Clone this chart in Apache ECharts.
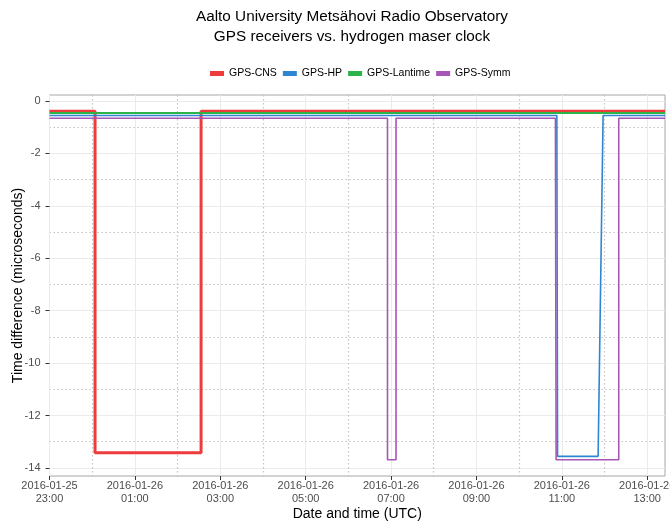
<!DOCTYPE html>
<html><head><meta charset="utf-8">
<script src="https://cdn.jsdelivr.net/npm/echarts@6/dist/echarts.min.js"></script>
<style>html,body{margin:0;padding:0;background:#fff}#c{width:670px;height:523px}</style>
</head><body><div id="c"></div>
<script>
// ---- data ----
const titleLines = ['Aalto University Metsähovi Radio Observatory', 'GPS receivers vs. hydrogen maser clock'];
const seriesNames = ['GPS-CNS', 'GPS-HP', 'GPS-Lantime', 'GPS-Symm'];
const seriesColors = ['#EE3B3B', '#2C86D1', '#2DB34A', '#A855B8'];

const cnsTimes = ['2016-01-25 23:00','2016-01-26 00:04','2016-01-26 00:04','2016-01-26 02:33','2016-01-26 02:33','2016-01-26 13:25'];
const cnsValues = [-0.39,-0.39,-13.42,-13.42,-0.39,-0.39];

const hpTimes = ['2016-01-25 23:00','2016-01-26 10:53','2016-01-26 10:54','2016-01-26 11:51','2016-01-26 11:58','2016-01-26 13:25'];
const hpValues = [-0.55,-0.55,-13.56,-13.56,-0.55,-0.55];

const lantimeTimes = ['2016-01-25 23:00','2016-01-26 13:25'];
const lantimeValues = [-0.46,-0.46];

const symmTimes = ['2016-01-25 23:00','2016-01-26 06:55','2016-01-26 06:55','2016-01-26 07:07','2016-01-26 07:07','2016-01-26 10:51','2016-01-26 10:52','2016-01-26 12:20','2016-01-26 12:20','2016-01-26 13:25'];
const symmValues = [-0.66,-0.66,-13.69,-13.69,-0.66,-0.66,-13.69,-13.69,-0.66,-0.66];

const xRange = ['2016-01-25 23:00', '2016-01-26 13:25'];
const xTickTimes = ['2016-01-25 23:00','2016-01-26 01:00','2016-01-26 03:00','2016-01-26 05:00','2016-01-26 07:00','2016-01-26 09:00','2016-01-26 11:00','2016-01-26 13:00'];
const xMinorTimes = ['2016-01-26 00:00','2016-01-26 02:00','2016-01-26 04:00','2016-01-26 06:00','2016-01-26 08:00','2016-01-26 10:00','2016-01-26 12:00'];
const yRange = [-14.31, 0.23];
const yTicks = [-14,-12,-10,-8,-6,-4,-2,0];
const yMinorTicks = [-13,-11,-9,-7,-5,-3,-1];
const xName = 'Date and time (UTC)';
const yName = 'Time difference (microseconds)';

// ---- helpers ----
function toMs(s) {
  const [d, t] = s.split(' ');
  const [Y, M, D] = d.split('-').map(Number);
  const [h, m] = t.split(':').map(Number);
  return Date.UTC(Y, M - 1, D, h, m);
}
const origin = toMs(xRange[0]);
const toH = s => (toMs(s) - origin) / 3600000;
const xTickH = xTickTimes.map(toH);
const xMinorH = xMinorTimes.map(toH);
function pairs(ts, vs) { return ts.map((t, i) => [toH(t), vs[i]]); }

const FONT = '"Liberation Sans", Arial, Helvetica, sans-serif';
const allSeries = [[cnsTimes, cnsValues], [hpTimes, hpValues], [lantimeTimes, lantimeValues], [symmTimes, symmValues]];
const widths = [3, 1.6, 2, 1.6];
const hiddenTick = {show: false, length: 0, lineStyle: {color: 'rgba(0,0,0,0)', opacity: 0, width: 0}};

const chart = echarts.init(document.getElementById('c'), null, {renderer: 'canvas'});
chart.setOption({
  animation: false,
  backgroundColor: '#fff',
  textStyle: {fontFamily: FONT},
  title: {
    text: titleLines.join('\n'),
    left: 352, top: 7, textAlign: 'center', padding: 0,
    textStyle: {fontFamily: FONT, fontSize: 15.3, fontWeight: 'normal', color: '#000', lineHeight: 20}
  },
  legend: {
    data: seriesNames,
    left: 210, top: 68, padding: 0,
    itemWidth: 14, itemHeight: 5, itemGap: 6, icon: 'rect',
    textStyle: {fontFamily: FONT, fontSize: 10.5, color: '#000'}
  },
  grid: {
    left: 49.5, right: 5, top: 95, bottom: 47,
    outerBoundsMode: 'none', containLabel: false,
    show: true, borderColor: '#a6a6a6', borderWidth: 1, backgroundColor: '#fff'
  },
  xAxis: [{
    type: 'value', min: 0, max: toH(xRange[1]), interval: 2, position: 'bottom',
    axisLine: {show: false, onZero: false},
    axisTick: {show: true, length: 4, customValues: xTickH, lineStyle: {color: '#333'}},
    axisLabel: {
      customValues: xTickH, margin: 4, fontSize: 11, color: '#4d4d4d', lineHeight: 12.5,
      fontFamily: FONT, showMinLabel: true, showMaxLabel: true, hideOverlap: false,
      formatter: v => {
        const i = xTickH.findIndex(h => Math.abs(h - v) < 1e-6);
        return i < 0 ? '' : xTickTimes[i].replace(' ', '\n');
      }
    },
    splitLine: {show: true, lineStyle: {color: '#ebebeb', width: 1}},
    name: xName, nameLocation: 'middle', nameGap: 31, nameMoveOverlap: false,
    nameTextStyle: {fontFamily: FONT, fontSize: 14, color: '#000'}
  }, {
    type: 'value', min: 0, max: toH(xRange[1]), interval: 2, position: 'top',
    axisLine: {show: false, onZero: false}, axisLabel: {show: false},
    axisTick: Object.assign({customValues: xMinorH}, hiddenTick),
    splitLine: {show: true, lineStyle: {color: '#c4c4c4', width: 1.2, type: [1.5, 2.5]}}
  }],
  yAxis: [{
    type: 'value', min: yRange[0], max: yRange[1], interval: 2, position: 'left',
    axisLine: {show: false, onZero: false},
    axisTick: {show: true, length: 4, customValues: yTicks, lineStyle: {color: '#333'}},
    axisLabel: {
      customValues: yTicks, margin: 9, fontSize: 11, color: '#4d4d4d', fontFamily: FONT,
      formatter: v => {
        const i = yTicks.findIndex(t => Math.abs(t - v) < 1e-6);
        return i < 0 ? '' : String(yTicks[i]);
      }
    },
    splitLine: {show: true, lineStyle: {color: '#ebebeb', width: 1}},
    name: yName, nameLocation: 'middle', nameGap: 24, nameMoveOverlap: false,
    nameTextStyle: {fontFamily: FONT, fontSize: 14, color: '#000'}
  }, {
    type: 'value', min: yRange[0], max: yRange[1], interval: 2, position: 'right',
    axisLine: {show: false, onZero: false}, axisLabel: {show: false},
    axisTick: Object.assign({customValues: yMinorTicks}, hiddenTick),
    splitLine: {show: true, lineStyle: {color: '#c4c4c4', width: 1.2, type: [1.5, 2.5]}}
  }],
  series: allSeries.map(([ts, vs], i) => ({
    name: seriesNames[i], type: 'line', xAxisIndex: 0, yAxisIndex: 0,
    data: pairs(ts, vs), showSymbol: false, symbol: 'none',
    color: seriesColors[i],
    itemStyle: {color: seriesColors[i]},
    lineStyle: {color: seriesColors[i], width: widths[i]},
    z: 2 + i
  }))
});
</script>
</body></html>
